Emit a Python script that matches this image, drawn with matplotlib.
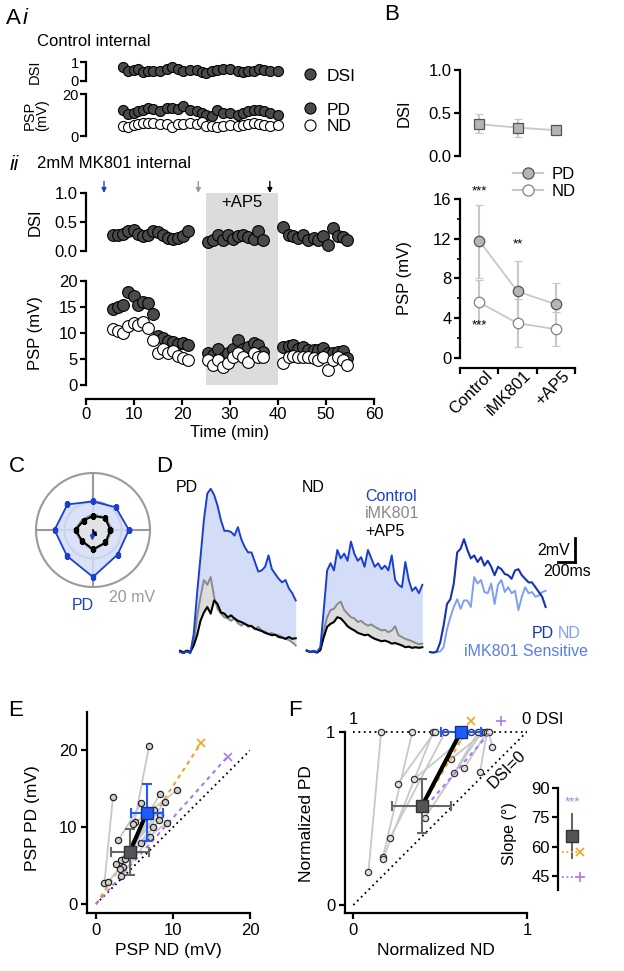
import matplotlib
matplotlib.use('Agg')
import matplotlib.pyplot as plt
import matplotlib.transforms as mtransforms
import numpy as np
from matplotlib.lines import Line2D

plt.rcParams['font.family'] = ['Liberation Sans', 'DejaVu Sans']
plt.rcParams['axes.facecolor'] = 'none'
plt.rcParams['axes.linewidth'] = 1.6
plt.rcParams['xtick.major.width'] = 1.6
plt.rcParams['ytick.major.width'] = 1.6
plt.rcParams['xtick.minor.width'] = 1.2
plt.rcParams['ytick.minor.width'] = 1.2
plt.rcParams['xtick.major.size'] = 4
plt.rcParams['ytick.major.size'] = 4
plt.rcParams['ytick.minor.size'] = 2.5

BLUE = '#1b3fd1'
BLUE_SQ = '#1f5bff'
LIGHT_BLUE = '#7f9ff2'
FILL_BLUE = '#d3ddf7'
DARK = '#4a4a4a'
ORANGE = '#f2a41c'
PURPLE = '#a97be8'
LGRAY = '#c8c8c8'

# ---------------- data ----------------
# Ai, control internal
ai_time = [7.8, 8.8, 9.9, 10.9, 11.9, 13.0, 14.0, 15.4, 16.8, 17.9, 19.2, 20.3, 21.7, 23.1,
           24.1, 25.1, 26.2, 27.2, 28.6, 30.0, 31.7, 32.8, 33.8, 34.9, 36.0, 37.0, 38.4, 40.1]
ai_dsi = [0.72, 0.55, 0.60, 0.63, 0.47, 0.50, 0.52, 0.50, 0.63, 0.75, 0.63, 0.55, 0.58, 0.58,
          0.47, 0.40, 0.55, 0.60, 0.63, 0.63, 0.50, 0.47, 0.50, 0.55, 0.63, 0.58, 0.55, 0.50]
ai_pd = [12.5, 10.6, 11.0, 11.7, 12.5, 13.3, 12.8, 12.0, 13.3, 13.3, 12.8, 14.1, 12.5, 11.7,
         10.9, 10.1, 9.5, 12.5, 10.9, 10.9, 10.1, 10.9, 11.7, 12.5, 12.5, 11.7, 10.9, 10.1]
ai_nd = [4.8, 4.5, 5.3, 5.8, 6.1, 6.4, 6.4, 5.8, 5.8, 4.2, 5.8, 5.6, 6.1, 5.8,
         6.9, 4.8, 4.8, 4.5, 4.8, 5.1, 4.8, 5.3, 5.8, 6.1, 5.8, 5.3, 4.8, 5.1]

# Aii, MK801 internal (three recording blocks)
aii_time = [[5.7, 6.7, 7.8, 8.8, 9.9, 10.9, 11.9, 13.0, 14.0, 15.1, 16.1, 17.1, 18.2, 19.2, 20.3, 21.3],
            [25.5, 26.5, 27.6, 28.6, 29.6, 30.7, 31.7, 32.8, 33.8, 34.9, 35.9, 36.9],
            [41.1, 42.2, 43.2, 44.2, 45.3, 46.3, 47.4, 48.4, 49.4, 50.5, 51.5, 52.6, 53.6, 54.3]]
aii_dsi = [[0.27, 0.27, 0.30, 0.35, 0.37, 0.30, 0.25, 0.28, 0.34, 0.33, 0.27, 0.23, 0.20, 0.22, 0.25, 0.34],
           [0.16, 0.19, 0.28, 0.19, 0.28, 0.20, 0.25, 0.28, 0.24, 0.20, 0.35, 0.19],
           [0.41, 0.28, 0.25, 0.22, 0.28, 0.19, 0.22, 0.19, 0.25, 0.10, 0.39, 0.25, 0.24, 0.19]]
aii_pd = [[14.6, 15.0, 15.3, 17.9, 17.2, 15.3, 16.0, 15.8, 13.6, 9.5, 9.0, 8.4, 8.2, 7.9, 8.0, 7.6],
          [6.1, 5.8, 7.0, 5.1, 6.1, 7.0, 8.6, 7.0, 7.3, 8.0, 7.7, 6.4],
          [7.3, 7.5, 7.7, 7.0, 7.3, 6.7, 6.7, 6.7, 7.2, 6.1, 6.1, 6.4, 6.6, 5.1]]
aii_nd = [[10.7, 10.4, 10.0, 11.4, 11.9, 11.5, 12.1, 10.9, 8.6, 6.2, 7.0, 6.1, 6.5, 5.6, 5.1, 4.9],
          [4.8, 3.8, 4.8, 3.5, 4.3, 5.4, 6.2, 5.4, 4.5, 6.1, 5.4, 5.3],
          [4.3, 5.4, 5.6, 5.4, 5.3, 5.3, 5.1, 4.9, 5.4, 2.9, 4.8, 5.3, 4.9, 3.8]]
ap5_window = (25, 40)
arrow_times = [3.75, 23.4, 38.3]
arrow_colors = [BLUE, '#999999', 'black']

# B, summary
b_conds = ['Control', 'iMK801', '+AP5']
b_dsi = [0.37, 0.33, 0.30]
b_dsi_lo = [0.27, 0.22, 0.25]
b_dsi_hi = [0.49, 0.43, 0.34]
b_pd = [11.8, 6.7, 5.4]
b_pd_lo = [8.1, 3.6, 3.3]
b_pd_hi = [15.4, 9.8, 7.5]
b_nd = [5.6, 3.5, 2.9]
b_nd_lo = [3.4, 1.1, 1.2]
b_nd_hi = [7.8, 5.9, 4.6]
b_stars = [(0, 16.8, '***'), (1, 11.4, '**'), (0, 3.3, '***')]

# C, polar tuning (mV)
c_dirs = [0, 45, 90, 135, 180, 225, 270, 315]
c_ctrl = [12.6, 11.3, 10.0, 12.7, 13.5, 12.9, 16.5, 12.2]
c_mk = [6.8, 6.3, 5.5, 5.3, 6.5, 5.8, 7.2, 6.5]
c_ap5 = [6.1, 6.0, 4.9, 4.7, 6.1, 5.4, 6.8, 6.2]

# D, traces (mV, 40 ms sampling)
dt = 40
pd_ctrl = [0, -0.1, 0.05, -0.1, 1.5, 4.9, 7.9, 11.0, 13.2, 13.6, 13.1, 12.2, 11.0, 10.1, 10.1, 10.0, 9.7, 10.4,
           9.4, 8.75, 8.3, 8.3, 7.5, 6.7, 6.8, 7.1, 8.05, 6.9, 6.5, 6.1, 5.8, 6.0, 5.3, 4.9, 4.3]
pd_mk = [0.1, 0, 0.15, 0, 0.7, 2.9, 4.6, 6.0, 5.6, 6.25, 4.6, 3.6, 3.2, 2.9, 2.8, 2.6, 2.8, 2.4,
         2.2, 2.4, 2.1, 2.2, 1.9, 2.1, 1.8, 1.7, 1.5, 1.6, 1.4, 1.4, 1.25, 1.1, 1.0, 0.8, 0.55]
pd_ap5 = [0.1, -0.05, 0.1, 0, 0.55, 1.4, 2.6, 3.3, 3.75, 3.2, 4.3, 4.0, 3.3, 3.2, 2.9, 3.05, 2.8, 2.6,
          2.5, 2.35, 2.2, 2.15, 1.95, 1.85, 1.75, 1.6, 1.5, 1.4, 1.45, 1.25, 1.2, 1.1, 1.25, 1.1, 1.15]
nd_ctrl = [0.15, 0, 0.1, 0, 0.4, 3.5, 6.8, 7.4, 6.8, 8.5, 7.8, 8.2, 7.6, 9.2, 8.2, 7.6, 7.9, 7.1,
           8.5, 7.8, 7.1, 7.4, 6.9, 7.2, 6.8, 8.05, 6.0, 5.6, 5.4, 7.5, 6.0, 5.1, 5.4, 4.9, 5.6]
nd_mk = [0.15, 0.05, 0.1, 0, 0.3, 1.8, 2.9, 3.5, 3.6, 4.0, 4.2, 3.5, 3.2, 2.9, 2.8, 2.5, 2.6, 2.35,
         2.2, 2.3, 2.1, 1.95, 1.8, 1.85, 1.65, 1.8, 2.15, 1.4, 1.25, 1.1, 1.0, 0.9, 0.75, 0.65, 0.7]
nd_ap5 = [0.1, 0, 0.05, -0.05, 0.15, 1.25, 2.1, 2.35, 2.5, 2.9, 2.8, 2.5, 2.15, 1.95, 1.8, 1.6, 1.5, 1.4,
          1.45, 1.25, 1.1, 1.0, 0.9, 0.95, 0.85, 0.7, 0.75, 0.65, 0.55, 0.4, 0.45, 0.35, 0.4, 0.35, 0.4]
sens_pd = [0, -0.05, 0.05, 0.8, 2.2, 4.0, 4.4, 5.7, 8.3, 8.6, 9.4, 8.5, 7.8, 8.05, 7.5, 7.9, 7.2, 7.6,
           7.1, 6.4, 7.1, 6.9, 6.5, 6.4, 6.1, 6.8, 6.9, 6.4, 6.1, 5.8, 5.8, 5.4, 5.0, 4.6, 3.75]
sens_nd = [0, -0.05, 0, 0.05, 0.4, 1.9, 2.9, 3.75, 4.4, 3.6, 4.3, 4.3, 3.75, 6.25, 5.7, 6.0, 5.0, 4.9,
           5.7, 4.0, 5.6, 6.0, 5.0, 5.4, 4.9, 5.1, 3.5, 4.6, 5.4, 4.9, 5.0, 4.6, 4.7, 5.0, 5.1]
trace_offsets = [60, 1550, 3000]

# E, PSP PD vs ND for each cell (control -> iMK801)
e_ctrl_nd = [6.9, 2.2, 10.5, 8.3, 5.9, 8.9, 7.5, 8.3, 9.2, 8.2, 7.35, 7.0]
e_ctrl_pd = [20.6, 13.9, 14.8, 14.3, 13.2, 13.3, 12.3, 11.6, 10.6, 10.9, 10.0, 8.7]
e_mk_nd = [5.0, 1.1, 4.8, 3.3, 2.9, 3.8, 3.5, 2.6, 5.9, 3.1, 1.6, 3.3]
e_mk_pd = [10.7, 2.8, 10.4, 5.7, 8.3, 5.9, 4.8, 5.2, 8.0, 4.5, 2.9, 3.7]
e_mean_nd = [6.6, 4.4]
e_mean_pd = [11.9, 6.8]
e_err_nd = [2.05, 2.5]
e_err_pd = [3.7, 3.0]
e_orange = ([0, 13.6], [0, 20.9])
e_purple = ([0, 17.1], [0, 19.2])

# F, normalized
f_ctrl_nd = [0.16, 0.34, 0.46, 0.47, 0.53, 0.68, 0.74, 0.76, 0.77, 0.77, 0.78, 0.72]
f_ctrl_pd = [1.0] * 12
f_mk_nd = [0.087, 0.17, 0.17, 0.256, 0.21, 0.35, 0.41, 0.56, 0.64, 0.73, 0.80, 0.58]
f_mk_pd = [0.19, 0.275, 0.265, 0.70, 0.385, 0.727, 0.50, 0.84, 0.79, 0.77, 0.913, 0.76]
f_mean_nd = [0.62, 0.395]
f_mean_pd = [1.0, 0.571]
f_err_nd = [0.115, 0.17]
f_err_pd = [0.0, 0.155]
f_orange = ([0.41, 0.65], [0.59, 1.0])
f_orange_mark = (0.68, 1.06)
f_purple = ([0.42, 0.79], [0.57, 1.0])
f_purple_mark = (0.85, 1.06)

# slope inset (deg)
slope_mean, slope_lo, slope_hi = 65.3, 54.2, 76.9
slope_orange = 57.5
slope_purple = 44.5
slope_purple_sig = 82.8

# ---------------- figure ----------------
W, H = 624, 971
fig = plt.figure(figsize=(W / 100, H / 100), dpi=100)


def add_ax(l, t, r, b, **kw):
    return fig.add_axes([l / W, 1 - b / H, (r - l) / W, (b - t) / H], **kw)


def label(x, y, s, **kw):
    kw.setdefault('va', 'center')
    fig.text(x / W, 1 - y / H, s, **kw)


def clean(ax, bottom=True):
    ax.spines['top'].set_visible(False)
    ax.spines['right'].set_visible(False)
    if not bottom:
        ax.spines['bottom'].set_visible(False)
        ax.tick_params(axis='x', bottom=False, labelbottom=False)


# panel letters / titles
label(6, 18, 'A', fontsize=16)
label(23, 18, 'i', fontsize=16, style='italic')
label(37, 42, 'Control internal', fontsize=12)
label(10, 164, 'ii', fontsize=15, style='italic')
label(37, 164, '2mM MK801 internal', fontsize=12)
label(384, 15, 'B', fontsize=16)
label(9, 466, 'C', fontsize=16)
label(156, 466, 'D', fontsize=16)
label(8, 710, 'E', fontsize=16)
label(288, 710, 'F', fontsize=16)

# ---- Ai ----
ax = add_ax(86, 62, 374, 81)
ax.scatter(ai_time, ai_dsi, s=52, c=DARK, edgecolors='k', linewidths=0.8, clip_on=False, zorder=3)
ax.set_xlim(0, 60)
ax.set_ylim(0, 1)
ax.set_yticks([0, 1])
ax.set_yticklabels(['0', '1'])
ax.tick_params(labelsize=10.5, pad=1)
clean(ax, bottom=False)
label(35, 72, 'DSI', fontsize=10.5, rotation=90, ha='center')
h_dsi = Line2D([], [], ls='none', marker='o', ms=8, mfc=DARK, mec='k', mew=0.8)
ax.legend([h_dsi], ['DSI'], loc='center left', bbox_to_anchor=(302 / W, 1 - 76 / H),
          bbox_transform=fig.transFigure, frameon=False, handlelength=0.9, handletextpad=0.5,
          borderpad=0, borderaxespad=0, fontsize=12.5)

ax = add_ax(86, 94, 374, 136)
ax.scatter(ai_time, ai_pd, s=52, c=DARK, edgecolors='k', linewidths=0.8, clip_on=False, zorder=3)
ax.scatter(ai_time, ai_nd, s=52, c='white', edgecolors='k', linewidths=0.8, clip_on=False, zorder=4)
ax.set_xlim(0, 60)
ax.set_ylim(0, 20)
ax.set_yticks([0, 20])
ax.tick_params(labelsize=10.5, pad=1)
clean(ax, bottom=False)
label(36, 115, 'PSP\n(mV)', fontsize=10.5, rotation=90, ha='center', linespacing=0.8)
h_nd = Line2D([], [], ls='none', marker='o', ms=8, mfc='white', mec='k', mew=0.8)
ax.legend([h_dsi, h_nd], ['PD', 'ND'], loc='center left', bbox_to_anchor=(302 / W, 1 - 118 / H),
          bbox_transform=fig.transFigure, frameon=False, handlelength=0.9, handletextpad=0.5,
          borderpad=0, borderaxespad=0, labelspacing=0.05, fontsize=12.5)

# ---- Aii ----
bg = add_ax(86, 193, 374, 385)
bg.set_xlim(0, 60)
bg.axvspan(*ap5_window, color='#dcdcdc', lw=0)
bg.axis('off')

ax = add_ax(86, 193, 374, 251)
for t, v in zip(aii_time, aii_dsi):
    ax.scatter(t, v, s=72, c=DARK, edgecolors='k', linewidths=0.8, clip_on=False, zorder=3)
ax.set_xlim(0, 60)
ax.set_ylim(0, 1)
ax.set_yticks([0, 0.5, 1])
ax.set_yticklabels(['0.0', '0.5', '1.0'])
ax.tick_params(labelsize=12, pad=2)
clean(ax, bottom=False)
ax.set_ylabel('DSI', fontsize=12)
ax.yaxis.set_label_coords(-0.15, 0.5)
ax.text(np.mean(ap5_window), 0.83, '+AP5', ha='center', va='center', fontsize=12)
for t, c in zip(arrow_times, arrow_colors):
    ax.annotate('', xy=(t, 1.0), xytext=(t, 1.2), annotation_clip=False,
                arrowprops=dict(arrowstyle='-|>', color=c, lw=1.0, mutation_scale=7,
                                shrinkA=0, shrinkB=0))

ax = add_ax(86, 281, 374, 385)
for t, p, n in zip(aii_time, aii_pd, aii_nd):
    ax.scatter(t, p, s=72, c=DARK, edgecolors='k', linewidths=0.8, clip_on=False, zorder=3)
    ax.scatter(t, n, s=72, c='white', edgecolors='k', linewidths=0.8, clip_on=False, zorder=4)
ax.set_xlim(0, 60)
ax.set_ylim(0, 20)
ax.set_yticks([0, 5, 10, 15, 20])
ax.set_xticks([0, 10, 20, 30, 40, 50, 60])
ax.tick_params(labelsize=12, pad=2)
clean(ax)
ax.spines['bottom'].set_position(('outward', 10))
ax.set_ylabel('PSP (mV)', fontsize=12)
ax.yaxis.set_label_coords(-0.15, 0.5)
ax.set_xlabel('Time (min)', fontsize=12, labelpad=2)

# ---- B ----
bx = np.arange(len(b_conds))
ax = add_ax(460, 70, 575, 156)
ax.errorbar(bx, b_dsi, yerr=[np.subtract(b_dsi, b_dsi_lo), np.subtract(b_dsi_hi, b_dsi)],
            fmt='s-', color=LGRAY, ecolor=LGRAY, elinewidth=1.5, capsize=3, capthick=1.5,
            ms=6.5, mfc='#b5b5b5', mec='#555555', mew=0.9, lw=1.3)
ax.set_xlim(-0.5, 2.5)
ax.set_ylim(0, 1)
ax.set_yticks([0, 0.5, 1])
ax.set_yticklabels(['0.0', '0.5', '1.0'])
ax.tick_params(labelsize=12, pad=2)
clean(ax, bottom=False)
ax.set_ylabel('DSI', fontsize=12)
ax.yaxis.set_label_coords(-0.42, 0.5)

ax = add_ax(460, 199, 575, 358)
ax.errorbar(bx, b_nd, yerr=[np.subtract(b_nd, b_nd_lo), np.subtract(b_nd_hi, b_nd)],
            fmt='o-', color=LGRAY, ecolor=LGRAY, elinewidth=1.5, capsize=3, capthick=1.5,
            ms=7.5, mfc='white', mec='#808080', mew=0.9, lw=1.3, clip_on=False)
ax.errorbar(bx, b_pd, yerr=[np.subtract(b_pd, b_pd_lo), np.subtract(b_pd_hi, b_pd)],
            fmt='o-', color=LGRAY, ecolor=LGRAY, elinewidth=1.5, capsize=3, capthick=1.5,
            ms=7.5, mfc='#b5b5b5', mec='#555555', mew=0.9, lw=1.3, clip_on=False)
for xi, yi, s in b_stars:
    ax.text(xi, yi, s, ha='center', va='center', fontsize=9.5)
ax.set_xlim(-0.5, 2.5)
ax.set_ylim(0, 16)
ax.set_yticks([0, 4, 8, 12, 16])
ax.set_yticks([2, 6, 10, 14], minor=True)
ax.set_xticks([-0.5, 0.5, 1.5, 2.5])
ax.set_xticklabels([])
ax.tick_params(labelsize=12, pad=2)
clean(ax)
ax.spines['bottom'].set_position(('outward', 7))
# rotated category labels below the axis
lab_tr = mtransforms.blended_transform_factory(ax.transData, ax.transAxes) + \
    mtransforms.ScaledTranslation(6 / 100, -10 / 100, fig.dpi_scale_trans)
for xi, s in zip(bx, b_conds):
    ax.text(xi, 0, s, transform=lab_tr, rotation=45, ha='right', va='top',
            rotation_mode='anchor', fontsize=12)
ax.set_ylabel('PSP (mV)', fontsize=12)
ax.yaxis.set_label_coords(-0.42, 0.5)
h_pd = Line2D([], [], color=LGRAY, lw=1.5, marker='o', ms=8, mfc='#b5b5b5', mec='#555555', mew=0.9)
h_nd = Line2D([], [], color=LGRAY, lw=1.5, marker='o', ms=8, mfc='white', mec='#808080', mew=0.9)
ax.legend([h_pd, h_nd], ['PD', 'ND'], loc='center left', bbox_to_anchor=(513 / W, 1 - 183 / H),
          bbox_transform=fig.transFigure, frameon=False, handlelength=1.8, handletextpad=0.5,
          borderpad=0, borderaxespad=0, labelspacing=0.15, fontsize=12)

# ---- C ----
ax = add_ax(36, 473, 150, 587, projection='polar')
th = np.deg2rad(c_dirs + c_dirs[:1])
r_ctrl = c_ctrl + c_ctrl[:1]
r_mk = c_mk + c_mk[:1]
r_ap5 = c_ap5 + c_ap5[:1]
ax.fill(th, r_ctrl, color=FILL_BLUE, alpha=0.85, lw=0, zorder=1)
ax.plot(th, r_ctrl, color=BLUE, lw=1.3, marker='s', ms=2.5, zorder=3)
ax.fill(th, r_mk, color='#e4e4e4', alpha=0.9, lw=0, zorder=2)
ax.plot(th, r_mk, color='#8a8a8a', lw=1.2, zorder=3)
ax.plot(th, r_ap5, color='black', lw=1.4, marker='s', ms=2.5, zorder=4)
ax.annotate('', xy=(np.deg2rad(265), 3.8), xytext=(0, 0), zorder=5,
            arrowprops=dict(arrowstyle='-|>', color=BLUE, lw=1.4, mutation_scale=6, shrinkA=0, shrinkB=0))
ax.annotate('', xy=(np.deg2rad(300), 2.8), xytext=(0, 0), zorder=5,
            arrowprops=dict(arrowstyle='-|>', color='black', lw=1.2, mutation_scale=5, shrinkA=0, shrinkB=0))
ax.set_ylim(0, 20)
ax.set_rgrids([10], labels=[''])
ax.set_thetagrids([0, 90, 180, 270], labels=['', '', '', ''])
ax.grid(color='#9a9a9a', lw=1.5)
ax.spines['polar'].set_color('#9a9a9a')
ax.spines['polar'].set_linewidth(1.5)
ax.set_axisbelow(True)
label(83, 605, 'PD', fontsize=11.5, color=BLUE, ha='center')
label(132, 597, '20 mV', fontsize=11.5, color='#999999', ha='center')

# ---- D ----
ax = add_ax(175, 480, 600, 665)
tt = np.arange(len(pd_ctrl)) * dt
for off, ctrl, mk, ap5 in [(trace_offsets[0], pd_ctrl, pd_mk, pd_ap5),
                           (trace_offsets[1], nd_ctrl, nd_mk, nd_ap5)]:
    ax.fill_between(tt + off, mk, ctrl, color=FILL_BLUE, lw=0)
    ax.fill_between(tt + off, ap5, mk, color='#dcdcdc', lw=0)
    ax.plot(tt + off, mk, color='#8a8a8a', lw=1.4)
    ax.plot(tt + off, ap5, color='black', lw=1.5)
    ax.plot(tt + off, ctrl, color=BLUE, lw=1.4)
ax.plot(tt + trace_offsets[2], sens_nd, color=LIGHT_BLUE, lw=1.4)
ax.plot(tt + trace_offsets[2], sens_pd, color='#1533b8', lw=1.5)
ax.plot([4706, 4706], [7.5, 9.5], color='black', lw=2)
ax.plot([4506, 4706], [7.5, 7.5], color='black', lw=2)
ax.text(4650, 8.45, '2mV', ha='right', va='center', fontsize=11.5)
ax.text(4610, 6.7, '200ms', ha='center', va='center', fontsize=11.5)
ax.set_xlim(0, 5000)
ax.set_ylim(-1.08, 14.33)
ax.axis('off')
label(176, 487, 'PD', fontsize=11.5)
label(302, 487, 'ND', fontsize=11.5)
label(365, 496, 'Control', fontsize=11.5, color=BLUE)
label(365, 514, 'iMK801', fontsize=11.5, color='#8a8a8a')
label(365, 532, '+AP5', fontsize=11.5, color='black')
label(554, 633, 'PD', fontsize=11.5, color='#1533b8', ha='right')
label(558, 633, 'ND', fontsize=11.5, color=LIGHT_BLUE, ha='left')
label(588, 652, 'iMK801 Sensitive', fontsize=11.5, color='#5a7de8', ha='right')

# ---- E ----
ax = add_ax(87, 712, 250, 913)
ax.plot([0, 20], [0, 20], color='black', ls=(0, (1, 2)), lw=1.3)
ax.plot(*e_orange, color=ORANGE, ls=(0, (2, 2)), lw=1.5)
ax.plot(e_orange[0][-1], e_orange[1][-1], 'x', color=ORANGE, ms=6, mew=1.2, clip_on=False)
ax.plot(*e_purple, color=PURPLE, ls=(0, (2, 2)), lw=1.5)
ax.plot(e_purple[0][-1], e_purple[1][-1], 'x', color=PURPLE, ms=6, mew=1.2, clip_on=False)
for a, b, c, d in zip(e_ctrl_nd, e_ctrl_pd, e_mk_nd, e_mk_pd):
    ax.plot([a, c], [b, d], color=LGRAY, lw=1.3, zorder=2)
ax.plot(e_ctrl_nd, e_ctrl_pd, 'o', ms=4.5, mfc='#d0d0d0', mec='#222222', mew=0.9, ls='none', zorder=3)
ax.plot(e_mk_nd, e_mk_pd, 'o', ms=4.5, mfc='#d0d0d0', mec='#222222', mew=0.9, ls='none', zorder=3)
ax.plot(e_mean_nd, e_mean_pd, color='black', lw=3, zorder=4)
ax.errorbar(e_mean_nd[1], e_mean_pd[1], xerr=e_err_nd[1], yerr=e_err_pd[1], fmt='s', ms=9,
            mfc='#555555', mec='#333333', ecolor='#666666', elinewidth=1.5, capsize=3.5, capthick=1.5, zorder=5)
ax.errorbar(e_mean_nd[0], e_mean_pd[0], xerr=e_err_nd[0], yerr=e_err_pd[0], fmt='s', ms=9,
            mfc=BLUE_SQ, mec='#1a2f80', ecolor=BLUE_SQ, elinewidth=1.5, capsize=3.5, capthick=1.5, zorder=5)
ax.set_xlim(-1.17, 20)
ax.set_ylim(-1.17, 25)
ax.set_xticks([0, 10, 20])
ax.set_yticks([0, 10, 20])
ax.tick_params(labelsize=12, pad=3)
clean(ax)
ax.set_xlabel('PSP ND (mV)', fontsize=12.5)
ax.set_ylabel('PSP PD (mV)', fontsize=12.5)
ax.yaxis.set_label_coords(-0.29, 0.47)

# ---- F ----
ax = add_ax(345, 706, 527, 913)
ax.plot([0, 1], [1, 1], color='black', ls=(0, (1, 2)), lw=1.3, zorder=1)
ax.plot([0, 1], [0, 1], color='black', ls=(0, (1, 2)), lw=1.3, zorder=1)
for a, b, c, d in zip(f_ctrl_nd, f_ctrl_pd, f_mk_nd, f_mk_pd):
    ax.plot([a, c], [b, d], color=LGRAY, lw=1.3, zorder=2)
ax.plot(f_ctrl_nd, f_ctrl_pd, 'o', ms=4.5, mfc='#e0e0e0', mec='#333333', mew=0.9, ls='none', zorder=3)
ax.plot(f_mk_nd, f_mk_pd, 'o', ms=4.5, mfc='#e0e0e0', mec='#333333', mew=0.9, ls='none', zorder=3)
ax.plot(*f_orange, color=ORANGE, ls=(0, (2, 2)), lw=1.5, zorder=3)
ax.plot(*f_orange_mark, 'x', color=ORANGE, ms=6, mew=1.2, clip_on=False)
ax.plot(*f_purple, color=PURPLE, ls=(0, (2, 2)), lw=1.5, zorder=3)
ax.plot(*f_purple_mark, '+', color=PURPLE, ms=7, mew=1.2, clip_on=False)
ax.plot(f_mean_nd, f_mean_pd, color='black', lw=3, zorder=4)
ax.errorbar(f_mean_nd[1], f_mean_pd[1], xerr=f_err_nd[1], yerr=f_err_pd[1], fmt='s', ms=9,
            mfc='#555555', mec='#333333', ecolor='#666666', elinewidth=1.5, capsize=3.5, capthick=1.5, zorder=5)
ax.errorbar(f_mean_nd[0], f_mean_pd[0], xerr=f_err_nd[0], fmt='s', ms=9,
            mfc=BLUE_SQ, mec='#1a2f80', ecolor=BLUE_SQ, elinewidth=1.5, capsize=3.5, capthick=1.5, zorder=5)
ax.text(0, 1.07, '1', ha='center', va='center', fontsize=12)
ax.text(0.97, 1.07, '0 DSI', ha='left', va='center', fontsize=12, clip_on=False)
ax.text(0.885, 0.785, 'DSI=0', ha='center', va='center', fontsize=12, rotation=45)
ax.set_xlim(-0.048, 1.0)
ax.set_ylim(-0.046, 1.148)
ax.spines['left'].set_bounds(-0.046, 1.0)
ax.set_xticks([0, 1])
ax.set_yticks([0, 1])
ax.tick_params(labelsize=12, pad=3)
clean(ax)
ax.set_xlabel('Normalized ND', fontsize=12.5)
ax.set_ylabel('Normalized PD', fontsize=12.5)
ax.yaxis.set_label_coords(-0.17, 0.43)

# slope inset
ax = add_ax(558, 788, 592, 890)
ax.plot([0.42, 0.42], [slope_lo, slope_hi], color='#666666', lw=1.5)
ax.plot(0.42, slope_mean, 's', ms=9, mfc='#555555', mec='#333333')
ax.plot([0.12, 0.55], [slope_orange, slope_orange], color=ORANGE, ls=(0, (1, 1.5)), lw=1.3)
ax.plot(0.65, slope_orange, 'x', color=ORANGE, ms=6, mew=1.2, clip_on=False)
ax.plot([0.12, 0.55], [slope_purple, slope_purple], color=PURPLE, ls=(0, (1, 1.5)), lw=1.3)
ax.plot(0.65, slope_purple, '+', color=PURPLE, ms=7, mew=1.2, clip_on=False)
ax.text(0.42, slope_purple_sig, '***', color=PURPLE, ha='center', va='center', fontsize=9.5)
ax.set_xlim(0, 1)
ax.set_ylim(37.9, 90)
ax.set_yticks([45, 60, 75, 90])
ax.tick_params(labelsize=12, pad=2)
clean(ax, bottom=False)
ax.set_ylabel('Slope (°)', fontsize=11.5)
ax.yaxis.set_label_coords(-1.2, 0.55)

fig.savefig('out.png', dpi=100)
